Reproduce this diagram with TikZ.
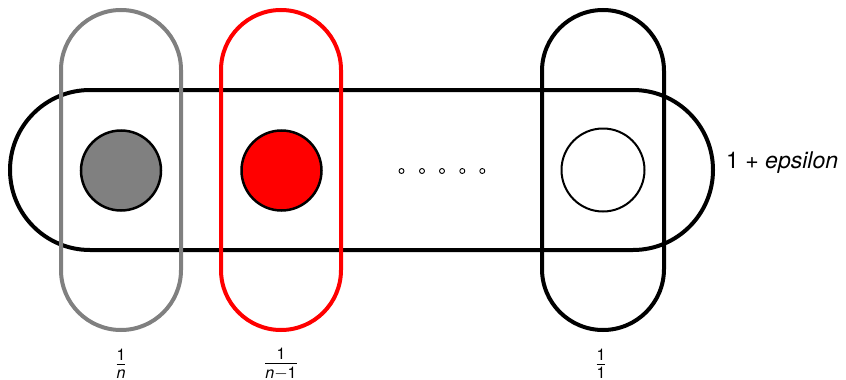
\documentclass[tikz,border=0pt]{standalone}
\usepackage{fontspec}
\usepackage{amsmath}
\setmainfont{TeX Gyre Heros}
\definecolor{mygray}{HTML}{808080}
\definecolor{myred}{HTML}{FF0000}
\tikzset{
  band/.style={line width=4pt},
  disc/.style={circle, draw=black, line width=2.5pt, minimum size=80pt, inner sep=0pt},
  tinydot/.style={circle, draw=black, line width=0.9pt, minimum size=5pt, inner sep=0pt},
  lbl/.style={inner sep=0pt, font=\fontsize{23}{28}\selectfont}
}
\begin{document}
\begin{tikzpicture}[x=1pt,y=-1pt]
\useasboundingbox (0,0) rectangle (846,380);
% horizontal stadium
\draw[band, rounded corners=80pt] (10,90) rectangle (713,250);
% vertical stadiums
\draw[band, mygray, rounded corners=60pt] (61,10) rectangle (181,330);
\draw[band, myred, rounded corners=60pt] (221,10) rectangle (341,330);
\draw[band, black, rounded corners=61pt] (542,10) rectangle (664,330);
% discs
\node[disc, fill=mygray] (dg) at (121,170.5) {};
\node[disc, fill=myred] (dr) at (281.5,170.5) {};
\node[disc, fill=white, line width=2pt, minimum size=83pt] (dw) at (603,170) {};
% dots
\foreach \i/\x in {1/401.5,2/422,3/442,4/462.3,5/482.3}
  \node[tinydot] (dot\i) at (\x,171) {};
% labels
\node[lbl, anchor=base west] (eps) at (726,168) {1 + \textit{epsilon}};
\node[lbl] (fn) at (121,364) {$\frac{\text{1}}{\text{\textit{n}}}$};
\node[lbl] (fn1) at (281,364) {$\frac{\text{1}}{\text{\textit{n}}-\text{1}}$};
\node[lbl] (f1) at (601,364) {$\frac{\text{1}}{\text{1}}$};
\end{tikzpicture}
\end{document}
